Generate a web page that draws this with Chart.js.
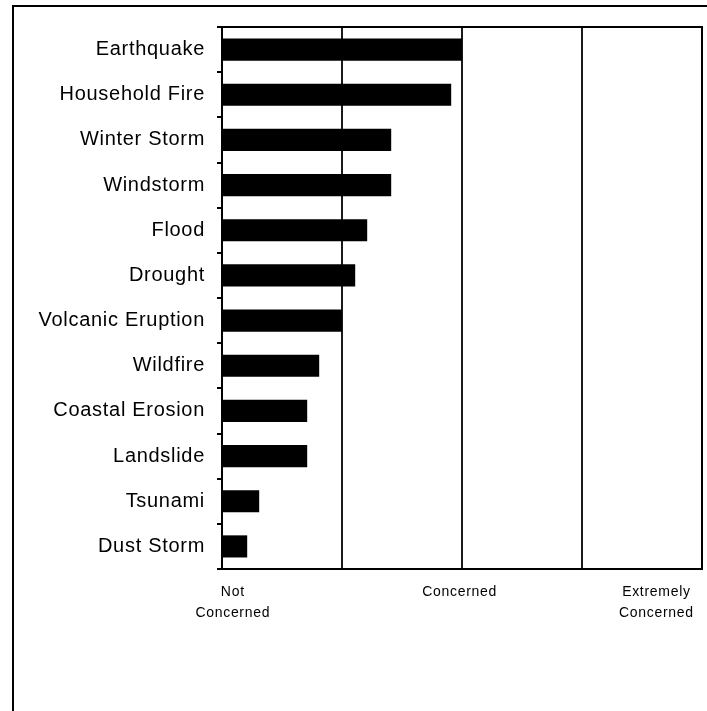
<!DOCTYPE html>
<html>
<head>
<meta charset="utf-8">
<script src="https://cdn.jsdelivr.net/npm/chart.js@4/dist/chart.umd.min.js"></script>
<style>
  html, body { margin: 0; padding: 0; background: #fff; width: 707px; height: 711px; overflow: hidden; }
  #frame { position: absolute; left: 12px; top: 5px; width: 800px; height: 800px; border: 2px solid #000; box-sizing: border-box; }
  #c { position: absolute; left: 0; top: 0; }
</style>
</head>
<body>
<div id="frame"></div>
<canvas id="c" width="707" height="711"></canvas>
<script>
const categories = ["Earthquake", "Household Fire", "Winter Storm", "Windstorm", "Flood", "Drought",
  "Volcanic Eruption", "Wildfire", "Coastal Erosion", "Landslide", "Tsunami", "Dust Storm"];
const concernValues = [2.0, 1.91, 1.41, 1.41, 1.21, 1.11, 1.0, 0.81, 0.71, 0.71, 0.31, 0.21];
const scaleMin = 0;
const scaleMax = 4;
const tickLabels = [["Not", "Concerned"], "Concerned", ["Extremely", "Concerned"]];
const tickLabelValues = [0.09, 1.98, 3.62];

const plotBorder = {
  id: 'plotBorder',
  beforeDraw(chart) {
    chart.ctx.letterSpacing = '0.7px';
  },
  afterDatasetsDraw(chart) {
    const { ctx, chartArea: a } = chart;
    ctx.save();
    ctx.strokeStyle = '#000';
    ctx.lineWidth = 2;
    ctx.strokeRect(a.left, a.top, a.right - a.left, a.bottom - a.top);
    ctx.restore();
  }
};

new Chart(document.getElementById('c'), {
  type: 'bar',
  data: {
    labels: categories,
    datasets: [{
      data: concernValues,
      backgroundColor: '#000',
      borderWidth: 0,
      barPercentage: 0.49,
      categoryPercentage: 1.0,
      xAxisID: 'x',
      yAxisID: 'y'
    }]
  },
  options: {
    indexAxis: 'y',
    responsive: false,
    animation: false,
    layout: { padding: { left: 0, top: 27, right: 5, bottom: 0 } },
    plugins: { legend: { display: false }, tooltip: { enabled: false } },
    scales: {
      y: {
        position: 'left',
        grid: { drawOnChartArea: false, drawTicks: true, tickLength: 5, color: '#000', lineWidth: 2, offset: true },
        border: { display: true, color: '#000', width: 2 },
        ticks: { color: '#000', padding: 12, font: { family: 'Liberation Sans, Arial, sans-serif', size: 20 } },
        afterFit(scale) { scale.width = 222; }
      },
      x: {
        type: 'linear',
        position: 'bottom',
        min: scaleMin, max: scaleMax,
        grid: { drawOnChartArea: true, drawTicks: false, color: '#1a1a1a', lineWidth: 2 },
        border: { display: false },
        ticks: { display: false, stepSize: 1 },
        afterFit(scale) { scale.height = 0; }
      },
      x2: {
        type: 'linear',
        position: 'bottom',
        min: scaleMin, max: scaleMax,
        grid: { display: false, drawTicks: false },
        border: { display: false },
        afterBuildTicks(scale) { scale.ticks = tickLabelValues.map(v => ({ value: v })); },
        ticks: {
          autoSkip: false, maxRotation: 0, minRotation: 0, padding: 12, color: '#000',
          font: { family: 'Liberation Sans, Arial, sans-serif', size: 14, lineHeight: 1.55 },
          callback(value, index) { return tickLabels[index]; }
        },
        afterFit(scale) { scale.height = 142; }
      }
    }
  },
  plugins: [plotBorder]
});
</script>
</body>
</html>
